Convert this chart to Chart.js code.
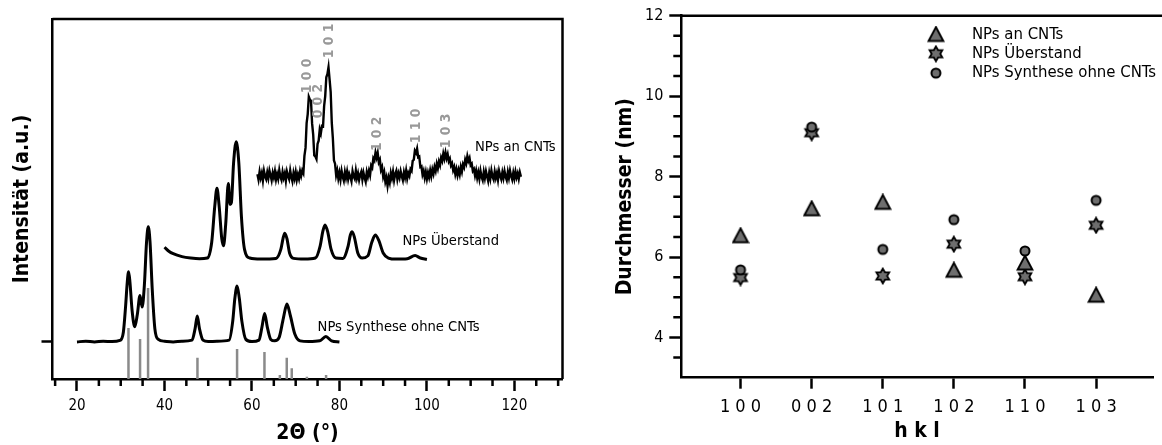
<!DOCTYPE html>
<html><head><meta charset="utf-8">
<script src="https://cdn.jsdelivr.net/npm/chart.js@4.4.0/dist/chart.umd.min.js"></script>
<style>
html,body{margin:0;padding:0;background:#fff;overflow:hidden;width:1162px;height:445px}
#l{position:absolute;left:0;top:0;width:580px;height:445px}
#r{position:absolute;left:580px;top:0;width:582px;height:445px}
</style></head><body>
<div id="l"><canvas id="cl"></canvas></div>
<div id="r"><canvas id="cr"></canvas></div>
<script>
// ---------- LEFT PANEL DATA (2θ in °, intensity in a.u.) ----------
const xrdSynthese = [[20,10.3],[22,10.5],[24,10.3],[26,10.5],[28,10.4],[29.8,10.7],[30.6,13],[31.1,20],[31.5,27],[31.8,29.8],[32.1,27],[32.6,19],[33.2,14.5],[33.8,18],[34.4,23.2],[34.9,20],[35.4,26],[35.9,38],[36.3,42.3],[36.7,38],[37.2,25],[37.8,14],[38.6,11],[40,10.5],[42,10.3],[44,10.5],[46.3,10.8],[47,14],[47.5,17.5],[48,14],[48.8,10.8],[50,10.4],[52,10.5],[54.8,10.8],[55.6,16],[56.1,22.5],[56.6,25.8],[57.1,22.5],[57.7,16],[58.6,11],[60,10.4],[61.6,10.8],[62.3,14.5],[62.9,18.2],[63.5,14.5],[64.3,11],[65.2,10.6],[66.2,11.5],[67.2,17],[68,20.8],[68.8,17.5],[69.8,12.5],[71,10.6],[73,10.4],[75.5,10.6],[76.9,11.8],[78.2,10.6],[80,10.3]];
const xrdUeberstand = [[40,36.6],[41,35.5],[42,34.8],[44,34],[46,33.6],[48,33.4],[49.8,33.6],[50.8,38],[51.5,48],[52,53],[52.5,48],[53.1,39],[53.5,37],[54,43],[54.6,54.3],[55,48.5],[55.3,49],[55.8,60],[56.4,65.9],[57,60],[57.6,45],[58.3,36],[59.5,33.6],[62,33.3],[65.5,33.5],[66.6,36],[67.1,39],[67.5,40.5],[68,39],[68.6,35],[69.5,33.5],[72,33.3],[74.5,33.6],[75.6,37],[76.2,41],[76.7,42.8],[77.3,41],[78.1,36],[79.2,33.6],[80.8,33.5],[82,37],[82.5,40],[82.9,40.9],[83.4,39.5],[84.2,35],[85.2,33.6],[86.5,34.2],[87.4,38],[88.2,40],[89,38.5],[90,35],[91.2,33.6],[93,33.3],[95.5,33.4],[97.3,34.3],[98.5,33.6],[100,33.2]];
const xrdCNT = [[61.25,56.9],[61.5,55.4],[61.75,57.6],[62,55.9],[62.25,57.2],[62.5,55.1],[62.75,57.8],[63,56.3],[63.25,55.5],[63.5,57.4],[63.75,55.8],[64,57.9],[64.25,56.6],[64.5,55.2],[64.75,57.3],[65,56.0],[65.25,57.7],[65.5,55.4],[65.75,56.9],[66,55.6],[66.25,58.0],[66.5,56.2],[66.75,55.3],[67,57.5],[67.25,55.9],[67.5,57.1],[67.75,55.0],[68,57.6],[68.25,56.4],[68.5,55.5],[68.75,57.9],[69,56.1],[69.25,54.9],[69.5,57.2],[69.75,55.7],[70,57.5],[70.25,55.3],[70.5,56.8],[70.75,55.6],[71,57.7],[71.25,56.4],[71.5,57.9],[71.75,57.2],[72,62.0],[72.25,64.2],[72.5,71.1],[72.75,73.6],[73,78.4],[73.25,77.6],[73.5,77.3],[73.75,71.0],[74,67.9],[74.25,62.1],[74.5,61.8],[74.75,61.1],[75,65.3],[75.25,66.2],[75.5,69.3],[75.75,68.2],[76,70.3],[76.25,70.2],[76.5,75.8],[76.75,78.6],[77,83.8],[77.25,84.7],[77.5,86.6],[77.75,83.2],[78,79.7],[78.25,71.2],[78.5,66.8],[78.75,60.7],[79,59.8],[79.25,56.6],[79.5,57.9],[79.75,55.7],[80,57.3],[80.25,55.4],[80.5,57.8],[80.75,56.2],[81,55.1],[81.25,57.5],[81.5,55.9],[81.75,57.6],[82,55.5],[82.25,57.0],[82.5,56.1],[82.75,54.9],[83,57.7],[83.25,56.3],[83.5,55.6],[83.75,57.9],[84,55.8],[84.25,57.1],[84.5,55.3],[84.75,56.8],[85,57.6],[85.25,55.4],[85.5,57.3],[85.75,55.9],[86,54.8],[86.25,57.5],[86.5,56.2],[86.75,57.8],[87,56.6],[87.25,59.3],[87.5,58.7],[87.75,61.3],[88,60.7],[88.25,62.9],[88.5,61.5],[88.75,62.8],[89,60.2],[89.25,60.9],[89.5,58.1],[89.75,58.9],[90,56.2],[90.25,57.4],[90.5,54.8],[90.75,56.0],[91,53.7],[91.25,55.9],[91.5,54.6],[91.75,57.2],[92,55.8],[92.25,57.6],[92.5,55.2],[92.75,56.9],[93,57.8],[93.25,55.5],[93.5,57.1],[93.75,55.9],[94,57.7],[94.25,56.3],[94.5,55.2],[94.75,57.4],[95,56.0],[95.25,57.9],[95.5,55.7],[95.75,57.2],[96,56.4],[96.25,58.3],[96.5,57.8],[96.75,60.6],[97,60.9],[97.25,63.4],[97.5,62.8],[97.75,64.0],[98,61.6],[98.25,61.8],[98.5,58.9],[98.75,59.1],[99,56.8],[99.25,57.8],[99.5,55.9],[99.75,57.5],[100,55.6],[100.25,57.3],[100.5,56.0],[100.75,57.9],[101,56.3],[101.25,58.2],[101.5,57.0],[101.75,58.9],[102,57.8],[102.25,59.8],[102.5,58.5],[102.75,60.4],[103,59.4],[103.25,61.5],[103.5,60.6],[103.75,62.6],[104,61.2],[104.25,62.9],[104.5,61.3],[104.75,62.4],[105,60.5],[105.25,61.2],[105.5,59.3],[105.75,59.9],[106,58.0],[106.25,58.9],[106.5,56.9],[106.75,58.3],[107,56.6],[107.25,58.1],[107.5,56.8],[107.75,58.9],[108,57.6],[108.25,59.6],[108.5,58.8],[108.75,60.9],[109,59.9],[109.25,61.9],[109.5,60.6],[109.75,61.4],[110,59.4],[110.25,59.8],[110.5,57.8],[110.75,58.3],[111,56.5],[111.25,57.9],[111.5,55.9],[111.75,57.4],[112,55.6],[112.25,57.8],[112.5,56.1],[112.75,55.2],[113,57.5],[113.25,55.8],[113.5,57.7],[113.75,56.3],[114,55.0],[114.25,57.3],[114.5,55.7],[114.75,57.9],[115,56.2],[115.25,55.4],[115.5,57.6],[115.75,55.9],[116,57.2],[116.25,55.3],[116.5,57.8],[116.75,56.5],[117,55.5],[117.25,57.4],[117.5,55.8],[117.75,57.7],[118,56.1],[118.25,55.2],[118.5,57.5],[118.75,55.9],[119,57.9],[119.25,56.4],[119.5,55.4],[119.75,57.3],[120,55.7],[120.25,57.6],[120.5,56.0],[120.75,57.1],[121,55.6],[121.25,57.4],[121.5,56.2]];
const refPos = [31.77,34.42,36.25,47.54,56.60,62.86,66.38,67.96,69.10,72.56,76.95];
const refInt = [14.2,11.1,25.3,5.9,8.3,7.5,1.1,5.9,3.0,0.6,1.1];
const curveNames = ['NPs an CNTs','NPs Überstand','NPs Synthese ohne CNTs'];
const curveNameX = [111.0,94.4,75.0];
const curveNameY = [64.3,38.3,14.5];
const hklLabels = ['1 0 0','0 0 2','1 0 1','1 0 2','1 1 0','1 0 3'];
const hklLabelX = [72.6,75.2,77.8,88.7,97.5,104.5];
const hklLabelY = [84.2,77.2,93.9,68.1,70.3,68.9];
const xTickValues = [15,20,25,30,35,40,45,50,55,60,65,70,75,80,85,90,95,100,105,110,115,120,125,130];
const xTickLabels = [20,40,60,80,100,120];
const yTickMarks = [10.3];

// ---------- RIGHT PANEL DATA ----------
const hkl = ['1 0 0','0 0 2','1 0 1','1 0 2','1 1 0','1 0 3'];
const dCNT = [6.53,7.20,7.36,5.67,5.85,5.05];
const dUeberstand = [5.49,9.09,5.53,6.32,5.51,6.79];
const dSynthese = [5.68,9.23,6.19,6.93,6.15,7.41];
const seriesNames = ['NPs an CNTs','NPs Überstand','NPs Synthese ohne CNTs'];
const yMajor = [4,6,8,10,12];
const yMinor = [3.5,4.5,5,5.5,6.5,7,7.5,8.5,9,9.5,10.5,11,11.5];

const FF = "'DejaVu Sans Condensed', 'DejaVu Sans', sans-serif";
const GRAY = '#6e6e6e';

function mk(w,h,draw){const c=document.createElement('canvas');c.width=w;c.height=h;const x=c.getContext('2d');draw(x);return c;}
const triImg = mk(18,18,x=>{x.beginPath();x.moveTo(9,1.6);x.lineTo(1.6,15.6);x.lineTo(16.4,15.6);x.closePath();x.fillStyle=GRAY;x.fill();x.lineWidth=2;x.lineJoin='miter';x.strokeStyle='#000';x.stroke();});
const starImg = mk(18,18,x=>{const R=7.4,r=R/Math.sqrt(3);x.beginPath();for(let k=0;k<12;k++){const a=-Math.PI/2+k*Math.PI/6;const rr=k%2?r:R;x.lineTo(9+rr*Math.cos(a),9+rr*Math.sin(a));}x.closePath();x.fillStyle=GRAY;x.fill();x.lineWidth=1.8;x.strokeStyle='#000';x.stroke();});
const circImg = mk(14,14,x=>{x.beginPath();x.arc(7,7,4.5,0,Math.PI*2);x.fillStyle=GRAY;x.fill();x.lineWidth=2;x.strokeStyle='#000';x.stroke();});

const toXY = a => a.map(p=>({x:p[0],y:p[1]}));
const sticks = [];
refPos.forEach((p,i)=>{sticks.push({x:p,y:0},{x:p,y:refInt[i]},{x:p,y:null});});

const frameLeft = {id:'frameLeft',afterDraw(c){const a=c.chartArea,ctx=c.ctx;ctx.save();ctx.lineWidth=2.5;ctx.strokeStyle='#000';ctx.beginPath();ctx.moveTo(a.left,a.top);ctx.lineTo(a.right,a.top);ctx.lineTo(a.right,a.bottom);ctx.stroke();ctx.restore();}};
const frameRight = {id:'frameRight',afterDraw(c){const a=c.chartArea,ctx=c.ctx;ctx.save();ctx.lineWidth=2.5;ctx.strokeStyle='#000';ctx.beginPath();ctx.moveTo(a.left,a.top);ctx.lineTo(c.width,a.top);ctx.stroke();ctx.restore();}};
function minorTicks(axis,vals,len){return {id:'minor'+axis,afterDraw(c){const s=c.scales[axis],a=c.chartArea,ctx=c.ctx;ctx.save();ctx.lineWidth=2.5;ctx.strokeStyle='#000';ctx.beginPath();vals.forEach(v=>{const p=s.getPixelForValue(v);if(s.isHorizontal()){ctx.moveTo(p,a.bottom);ctx.lineTo(p,a.bottom+len);}else{ctx.moveTo(a.left,p);ctx.lineTo(a.left-len,p);}});ctx.stroke();ctx.restore();}};}
const leftText = {id:'leftText',afterDatasetsDraw(c){const xs=c.scales.x,ys=c.scales.y,ctx=c.ctx;ctx.save();
  ctx.fillStyle='#000';ctx.font="14.6px "+FF;ctx.textAlign='left';ctx.textBaseline='middle';
  curveNames.forEach((t,i)=>ctx.fillText(t,xs.getPixelForValue(curveNameX[i]),ys.getPixelForValue(curveNameY[i])));
  ctx.fillStyle='#999';ctx.font="bold 13.8px "+FF;ctx.textAlign='center';
  hklLabels.forEach((t,i)=>{ctx.save();ctx.translate(xs.getPixelForValue(hklLabelX[i]),ys.getPixelForValue(hklLabelY[i]));ctx.rotate(-Math.PI/2);ctx.fillText(t,0,0);ctx.restore();});
  ctx.restore();}};

const majorSetX = new Set(xTickLabels);
new Chart(document.getElementById('cl'),{
  type:'line',
  data:{datasets:[
    {data:sticks,borderColor:'#8a8a8a',borderWidth:2.5,pointRadius:0,spanGaps:false,tension:0,order:0},
    {data:toXY(xrdCNT),borderColor:'#000',borderWidth:2.4,pointRadius:0,tension:0,order:1},
    {data:toXY(xrdUeberstand),borderColor:'#000',borderWidth:3,pointRadius:0,cubicInterpolationMode:'monotone',order:1},
    {data:toXY(xrdSynthese),borderColor:'#000',borderWidth:3,pointRadius:0,cubicInterpolationMode:'monotone',order:1}
  ]},
  options:{responsive:true,maintainAspectRatio:false,animation:false,devicePixelRatio:1,
    layout:{padding:{left:0,right:17.5,top:19,bottom:0}},
    plugins:{legend:{display:false},tooltip:{enabled:false}},
    scales:{
      x:{type:'linear',min:14.4,max:131,
        afterBuildTicks:s=>{s.ticks=xTickValues.map(v=>({value:v}));},
        afterFit:s=>{s.height=66;},
        grid:{display:true,drawOnChartArea:false,drawTicks:true,tickLength:12,tickWidth:2.5,tickColor:c=>(c.tick&&majorSetX.has(c.tick.value))?'#000':'rgba(0,0,0,0)'},
        border:{display:true,color:'#000',width:2.5},
        ticks:{autoSkip:false,maxRotation:0,padding:6,color:'#000',font:{family:FF,size:15},callback:v=>majorSetX.has(v)?String(v):''},
        title:{display:true,text:'2Θ (°)',color:'#000',font:{family:FF,size:21,weight:'bold',lineHeight:1},padding:{top:0,bottom:0.5}}},
      y:{type:'linear',min:0,max:100,
        afterBuildTicks:s=>{s.ticks=yTickMarks.map(v=>({value:v}));},
        afterFit:s=>{s.width=52.5;},
        grid:{display:true,drawOnChartArea:false,drawTicks:true,tickLength:11,tickWidth:2.5,tickColor:'#000'},
        border:{display:true,color:'#000',width:2.5},
        ticks:{display:false},
        title:{display:true,text:'Intensität (a.u.)',color:'#000',font:{family:FF,size:21,weight:'bold',lineHeight:1},padding:{top:12.5,bottom:0}}}
    }},
  plugins:[frameLeft,minorTicks('x',xTickValues.filter(v=>!majorSetX.has(v)),7),leftText]
});

const legendPos = {id:'legendPos',afterLayout(c){const l=c.legend;if(!l)return;l.left=325.5;l.top=23.5;l.right=l.left+l.width;l.bottom=l.top+200;}};
const xIdx = hkl.map((h,i)=>i);
new Chart(document.getElementById('cr'),{
  type:'scatter',
  data:{datasets:[
    {label:seriesNames[0],data:dCNT.map((v,i)=>({x:xIdx[i],y:v})),pointStyle:triImg,pointRadius:8,order:1},
    {label:seriesNames[1],data:dUeberstand.map((v,i)=>({x:xIdx[i],y:v})),pointStyle:starImg,pointRadius:8,order:2},
    {label:seriesNames[2],data:dSynthese.map((v,i)=>({x:xIdx[i],y:v})),pointStyle:circImg,pointRadius:6,order:0}
  ]},
  options:{responsive:true,maintainAspectRatio:false,animation:false,devicePixelRatio:1,
    layout:{padding:{left:0,right:0,top:15.7,bottom:0}},
    plugins:{tooltip:{enabled:false},
      legend:{display:true,position:'chartArea',align:'start',
        labels:{usePointStyle:true,pointStyleWidth:55.4,padding:2.7,color:'#000',font:{family:FF,size:16.6},sort:(a,b)=>a.datasetIndex-b.datasetIndex}}},
    scales:{
      x:{type:'linear',min:-0.837,max:5.8,
        afterBuildTicks:s=>{s.ticks=xIdx.map(v=>({value:v}));},
        afterFit:s=>{s.height=67.3;},
        grid:{display:true,drawOnChartArea:false,drawTicks:true,tickLength:11,tickWidth:2.5,tickColor:'#000'},
        border:{display:true,color:'#000',width:2.5},
        ticks:{autoSkip:false,maxRotation:0,padding:8,color:'#000',font:{family:FF,size:18},callback:v=>hkl[v]},
        title:{display:true,text:'h k l',color:'#000',font:{family:FF,size:21,weight:'bold',lineHeight:1},padding:{top:0,bottom:2.5}}},
      y:{type:'linear',min:3,max:12,
        afterBuildTicks:s=>{s.ticks=yMajor.map(v=>({value:v}));},
        afterFit:s=>{s.width=101;},
        grid:{display:true,drawOnChartArea:false,drawTicks:true,tickLength:11.7,tickWidth:2.5,tickColor:'#000'},
        border:{display:true,color:'#000',width:2.5},
        ticks:{padding:6,color:'#000',font:{family:FF,size:16}},
        title:{display:true,text:'Durchmesser (nm)',color:'#000',font:{family:FF,size:21,weight:'bold',lineHeight:1},padding:{top:35.5,bottom:0}}}
    }},
  plugins:[frameRight,minorTicks('y',yMinor,7.7),legendPos]
});
</script></body></html>
